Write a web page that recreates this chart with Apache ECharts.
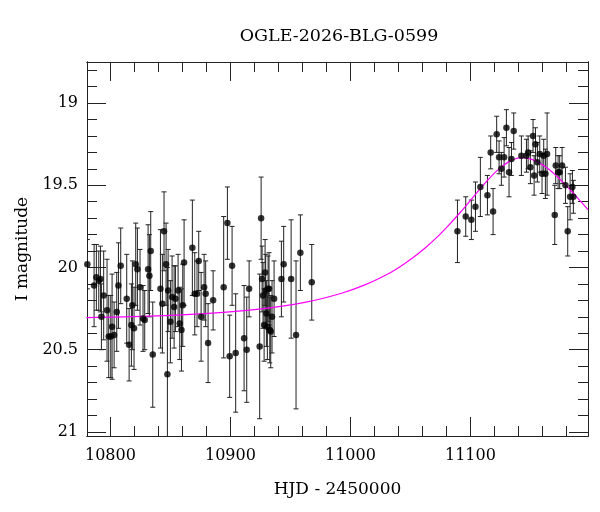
<!DOCTYPE html>
<html>
<head>
<meta charset="utf-8">
<script src="https://cdn.jsdelivr.net/npm/echarts@6/dist/echarts.min.js"></script>
<style>
  html, body { margin: 0; padding: 0; background: #fff; }
  #chart { width: 600px; height: 512px; }
</style>
</head>
<body>
<div id="chart"></div>
<script>
// photometry: HJD - 2450000, I magnitude, error
const hjd = [
  10780.8, 10786.4, 10788.3, 10790.3, 10791.7, 10792.5, 10794.4, 10797.2, 10798.6, 10800.3,
  10801.4, 10803.1, 10805.3, 10806.7, 10808.6, 10813.6, 10815.6, 10817.5, 10818.3, 10819.7,
  10821.1, 10822.5, 10824.7, 10827.2, 10828.6, 10831.4, 10832.5, 10833.6, 10835.3, 10841.7,
  10843.3, 10844.7, 10846.4, 10847.5, 10848.1, 10850.0, 10851.4, 10853.1, 10854.2, 10856.4,
  10857.8, 10859.2, 10860.3, 10861.4, 10868.3, 10870.3, 10872.2, 10873.6, 10875.6, 10878.1,
  10879.4, 10881.4, 10885.6,
  10894.4, 10897.5, 10899.4, 10901.4, 10904.4, 10911.4, 10913.6, 10915.6, 10924.4, 10925.6,
  10926.4, 10927.2, 10928.1, 10928.9, 10929.4, 10930.0, 10930.8, 10931.4, 10932.2, 10932.8,
  10933.6, 10934.7, 10936.4, 10942.5, 10944.4, 10950.6, 10954.7, 10958.3, 10967.8,
  11089.2, 11096.1, 11100.8, 11104.2, 11108.3, 11114.2, 11116.9, 11118.9, 11121.9, 11123.9,
  11125.8, 11128.1, 11130.0, 11132.2, 11134.2, 11136.1, 11142.5, 11146.7, 11148.1, 11150.0,
  11152.2, 11153.1, 11154.2, 11155.8, 11157.8, 11159.7, 11161.1, 11162.5, 11163.9, 11170.3,
  11171.1, 11173.1, 11174.4, 11176.4, 11179.2, 11181.1, 11183.1, 11185.0, 11185.8
];
const mag = [
  19.98, 20.11, 20.06, 20.08, 20.07, 20.30, 20.17, 20.26, 20.42, 20.42,
  20.36, 20.41, 20.27, 20.11, 19.99, 20.19, 20.47, 20.35, 20.23, 20.37,
  19.98, 20.01, 20.12, 20.31, 20.32, 20.01, 20.05, 19.90, 20.53, 20.13,
  20.22, 19.78, 19.98, 20.65, 20.14, 20.33, 20.18, 20.24, 20.19, 20.14,
  20.34, 20.38, 20.23, 19.97, 19.88, 20.16, 20.16, 19.96, 20.30, 20.12,
  20.16, 20.46, 20.20,
  20.12, 19.73, 20.54, 19.99, 20.52, 20.43, 20.50, 20.13, 20.48, 19.70,
  20.07, 20.17, 20.35, 20.03, 20.14, 20.28, 20.36, 20.13, 20.13, 20.38,
  20.39, 20.30, 20.19, 20.07, 19.98, 20.07, 20.41, 19.91, 20.09,
  19.78, 19.69, 19.71, 19.63, 19.51, 19.56, 19.30, 19.66, 19.19, 19.33,
  19.40, 19.33, 19.15, 19.42, 19.34, 19.17, 19.32, 19.32, 19.30, 19.39,
  19.20, 19.44, 19.25, 19.36, 19.31, 19.43, 19.32, 19.43, 19.31, 19.68,
  19.38, 19.42, 19.42, 19.38, 19.50, 19.78, 19.57, 19.51, 19.57
];
const magErr = [
  0.15, 0.25, 0.20, 0.18, 0.20, 0.20, 0.27, 0.31, 0.25, 0.25,
  0.32, 0.20, 0.24, 0.26, 0.23, 0.27, 0.22, 0.25, 0.27, 0.25,
  0.25, 0.25, 0.23, 0.20, 0.18, 0.27, 0.25, 0.24, 0.32, 0.36,
  0.30, 0.24, 0.25, 0.65, 0.25, 0.25, 0.25, 0.25, 0.20, 0.22,
  0.22, 0.25, 0.25, 0.26, 0.29, 0.25, 0.20, 0.18, 0.27, 0.20,
  0.20, 0.24, 0.18,
  0.43, 0.22, 0.25, 0.24, 0.36, 0.32, 0.32, 0.17, 0.44, 0.25,
  0.20, 0.20, 0.22, 0.20, 0.22, 0.20, 0.20, 0.20, 0.22, 0.20,
  0.22, 0.22, 0.23, 0.23, 0.23, 0.36, 0.45, 0.23, 0.23,
  0.19, 0.12, 0.12, 0.15, 0.18, 0.12, 0.10, 0.14, 0.11, 0.10,
  0.10, 0.12, 0.11, 0.15, 0.10, 0.11, 0.12, 0.10, 0.10, 0.10,
  0.10, 0.12, 0.10, 0.12, 0.11, 0.12, 0.10, 0.15, 0.25, 0.18,
  0.11, 0.10, 0.10, 0.11, 0.11, 0.15, 0.14, 0.10, 0.10
];

// model light curve, sampled off the plot
const modelHjd = [10780, 10832, 10882, 10922, 10962, 10992, 11012, 11032, 11042, 11052,
  11062, 11072, 11082, 11092, 11100, 11107, 11114, 11122, 11132, 11137,
  11143, 11149, 11154, 11164, 11172, 11179, 11186, 11194, 11198];
const modelMag = [20.305, 20.296, 20.279, 20.255, 20.212, 20.158, 20.106, 20.036, 19.992, 19.941,
  19.883, 19.817, 19.742, 19.661, 19.592, 19.531, 19.472, 19.412, 19.356, 19.340,
  19.332, 19.338, 19.350, 19.395, 19.445, 19.495, 19.550, 19.615, 19.648];

// ticks
const xMajor = [10800, 10900, 11000, 11100];
const xMinor = [10780, 10800, 10820, 10840, 10860, 10880, 10900, 10920, 10940, 10960, 10980,
  11000, 11020, 11040, 11060, 11080, 11100, 11120, 11140, 11160, 11180];
const yMajor = [19, 19.5, 20, 20.5, 21];
const yMinor = [18.8, 18.9, 19, 19.1, 19.2, 19.3, 19.4, 19.5, 19.6, 19.7, 19.8, 19.9,
  20, 20.1, 20.2, 20.3, 20.4, 20.5, 20.6, 20.7, 20.8, 20.9, 21];

const font = 'DejaVu Serif';
const ink = '#222';

const chart = echarts.init(document.getElementById('chart'));

const gridBox = { left: 87, top: 62, right: 12, bottom: 76, outerBoundsMode: 'none', containLabel: false };

function xAxisDef(gridIndex, position, ticks, len, withLabel) {
  return {
    type: 'value', gridIndex: gridIndex, position: position,
    min: 10780.5, max: 11198,
    axisLine: { show: true, onZero: false, lineStyle: { color: ink, width: 1 } },
    axisTick: { show: true, inside: true, length: len, customValues: ticks, lineStyle: { color: ink, width: 1 } },
    axisLabel: withLabel ? {
      show: true, customValues: xMajor, margin: 12,
      formatter: function (v) { return String(v); },
      fontFamily: font, fontSize: 16, color: '#000'
    } : { show: false },
    splitLine: { show: false },
    name: withLabel ? 'HJD - 2450000' : '',
    nameLocation: 'middle', nameGap: 45,
    nameTextStyle: { fontFamily: font, fontSize: 17, color: '#000' }
  };
}

function yAxisDef(gridIndex, position, ticks, len, withLabel) {
  return {
    type: 'value', gridIndex: gridIndex, position: position, inverse: true,
    min: 18.75, max: 21.025,
    axisLine: { show: true, onZero: false, lineStyle: { color: ink, width: 1 } },
    axisTick: { show: true, inside: true, length: len, customValues: ticks, lineStyle: { color: ink, width: 1 } },
    axisLabel: withLabel ? {
      show: true, customValues: yMajor, margin: 9,
      formatter: function (v) { return String(v); },
      fontFamily: font, fontSize: 16, color: '#000'
    } : { show: false },
    splitLine: { show: false },
    name: withLabel ? 'I magnitude' : '',
    nameLocation: 'middle', nameGap: 56, nameRotate: 90,
    nameTextStyle: { fontFamily: font, fontSize: 17, color: '#000' }
  };
}

const points = hjd.map(function (x, i) { return [x, mag[i], magErr[i]]; });
const model = modelHjd.map(function (x, i) { return [x, modelMag[i]]; });

const option = {
  animation: false,
  backgroundColor: '#fff',
  graphic: [{
    type: 'text', x: 339, y: 36,
    style: {
      text: 'OGLE-2026-BLG-0599', fill: '#000',
      font: '17.5px "DejaVu Serif"', textAlign: 'center', textVerticalAlign: 'middle'
    }
  }],
  grid: [Object.assign({}, gridBox), Object.assign({}, gridBox)],
  xAxis: [
    xAxisDef(0, 'bottom', xMajor, 19, true),
    xAxisDef(0, 'top', xMajor, 19, false),
    xAxisDef(1, 'bottom', xMinor, 10, false),
    xAxisDef(1, 'top', xMinor, 10, false)
  ],
  yAxis: [
    yAxisDef(0, 'left', yMajor, 19, true),
    yAxisDef(0, 'right', yMajor, 19, false),
    yAxisDef(1, 'left', yMinor, 10, false),
    yAxisDef(1, 'right', yMinor, 10, false)
  ],
  series: [
    {
      // error bars
      type: 'custom',
      xAxisIndex: 0, yAxisIndex: 0,
      clip: true,
      renderItem: function (params, api) {
        const x = api.value(0);
        const m = api.value(1);
        const e = api.value(2);
        const top = api.coord([x, m - e]);
        const bot = api.coord([x, m + e]);
        const cap = 2.5;
        const st = { stroke: ink, lineWidth: 1 };
        return {
          type: 'group',
          children: [
            { type: 'line', shape: { x1: top[0], y1: top[1], x2: bot[0], y2: bot[1] }, style: st },
            { type: 'line', shape: { x1: top[0] - cap, y1: top[1], x2: top[0] + cap, y2: top[1] }, style: st },
            { type: 'line', shape: { x1: bot[0] - cap, y1: bot[1], x2: bot[0] + cap, y2: bot[1] }, style: st }
          ]
        };
      },
      encode: { x: 0, y: 1 },
      data: points,
      z: 2
    },
    {
      type: 'line',
      xAxisIndex: 0, yAxisIndex: 0,
      data: model,
      smooth: 0.3,
      showSymbol: false,
      lineStyle: { color: '#ff00ff', width: 1.2 },
      z: 3
    },
    {
      type: 'scatter',
      xAxisIndex: 0, yAxisIndex: 0,
      data: points,
      symbol: 'circle',
      symbolSize: 6.5,
      itemStyle: { color: '#000' },
      z: 4
    }
  ]
};

chart.setOption(option);
</script>
</body>
</html>
